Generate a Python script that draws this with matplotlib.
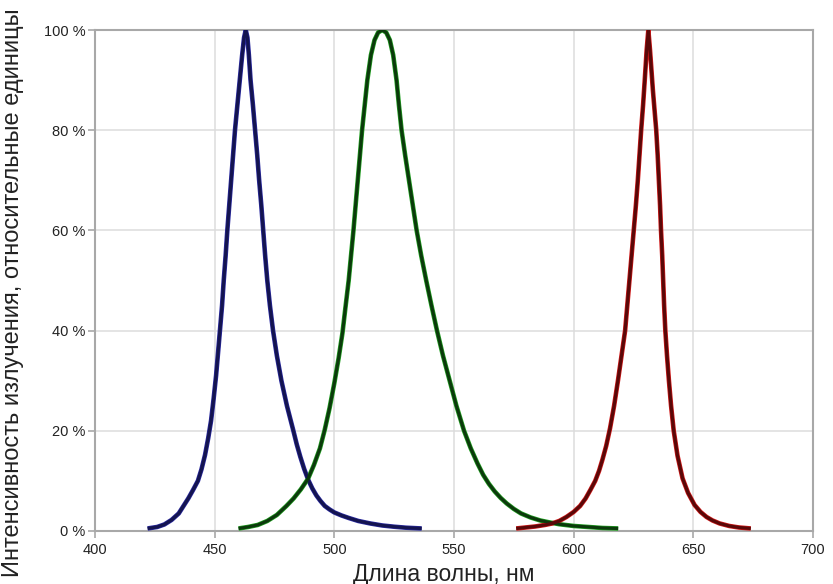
import matplotlib.pyplot as plt
from matplotlib.ticker import FuncFormatter

plt.rcParams['font.family'] = ['Liberation Sans', 'DejaVu Sans']

# Emission spectra of an RGB LED, relative intensity in %
blue_nm = [422, 426, 429, 432, 435, 437, 439, 441, 443, 444.5, 446, 447.3, 448.5,
           449.6, 450.6, 451.5, 452.3, 453.1, 453.8, 454.6, 455.3, 456.1, 456.9,
           457.7, 458.5, 459.5, 460.5, 461.5, 462.3, 463, 463.7, 464.3, 465, 466,
           466.9, 467.8, 468.6, 469.5, 470.3, 471.1, 472, 473.1, 474.4, 476,
           477.9, 480.2, 482.9, 484.3, 485.8, 487.4, 489.1, 490.8, 492.5, 494.2,
           496, 498, 500, 503, 506, 510, 515, 520, 525, 530, 536.5]
blue_pct = [0.5, 0.8, 1.3, 2.2, 3.5, 5, 6.5, 8.2, 10, 12.3, 15.2, 18.5, 22,
            26.5, 31, 36, 40.5, 45, 50, 55, 60, 65, 70,
            75, 80, 85, 90, 95, 98.5, 100, 98.5, 95, 90, 85,
            80, 75, 70, 65, 60, 55, 50, 45, 40, 35,
            30, 25, 20, 17.3, 14.8, 12.4, 10.2, 8.5, 7.1, 6,
            5, 4.3, 3.7, 3.1, 2.6, 2, 1.5, 1.1, 0.85, 0.65, 0.5]

green_nm = [460, 464, 468, 472, 476, 480, 483, 486, 489, 491.5, 494, 496, 498,
            500, 501.8, 503.4, 504.7, 506, 507, 508, 508.9, 509.8, 510.7, 511.6,
            512.7, 513.8, 515.3, 516.8, 518.3, 520, 521.7, 523.2, 524.6, 526, 527,
            528.1, 529.6, 531.2, 532.8, 534.4, 536.3, 538.4, 540.6, 542.9, 545.4,
            548.2, 551, 554.2, 557, 559.8, 562.2, 564.6, 567, 569.5, 572,
            575, 578, 582, 586, 590, 594, 600, 606, 612, 618.6]
green_pct = [0.5, 0.8, 1.2, 2, 3.2, 5, 6.5, 8.3, 10.4, 13.2, 16.5, 20.2, 24.5,
             29.5, 34.5, 39.5, 44.8, 50, 55, 60, 65, 70, 75, 80,
             85, 90, 95, 98, 99.5, 100, 99.5, 98, 95, 90, 85,
             80, 75, 70, 65, 60, 55, 50, 45, 40, 35,
             30, 25, 20, 16.5, 13.5, 11.2, 9.4, 7.9, 6.6, 5.5,
             4.4, 3.5, 2.7, 2.1, 1.7, 1.35, 1, 0.8, 0.6, 0.5]

red_nm = [576, 580, 584, 588, 591, 594, 597, 600, 602.7, 605, 607, 609, 610.6,
          612, 613.6, 615.2, 616.9, 618.5, 620, 621.5, 622.4, 623.3, 624.2,
          625.1, 626, 626.8, 627.5, 628.2, 629, 629.7, 630.5, 631.2, 631.9,
          632.5, 633.1, 633.8, 634.5, 635.1, 635.6, 636.1, 636.5, 637, 637.4,
          637.8, 638.3, 639, 639.8, 640.7, 641.8, 643.4, 645.5, 647.8, 650.5,
          653, 655.5, 658, 661, 665, 669, 674]
red_pct = [0.5, 0.7, 0.9, 1.2, 1.5, 2, 2.8, 3.8, 5, 6.5, 8.2, 10, 12,
           14.2, 17, 20.5, 25, 30, 35, 40, 45, 50, 55,
           60, 65, 70, 75, 80, 85, 90, 96, 100, 96,
           92, 88, 84, 80, 75, 70, 65, 60, 55, 50,
           45, 40, 35, 30, 25, 20, 15, 10.5, 7.6, 5.2,
           3.8, 2.8, 2.1, 1.5, 1, 0.7, 0.5]

x_ticks = [400, 450, 500, 550, 600, 650, 700]
y_ticks = [0, 20, 40, 60, 80, 100]

fig = plt.figure(figsize=(8.33, 5.84), dpi=100)
ax = fig.add_axes([0.114, 0.0908, 0.862, 0.8578])

# each curve: bright halo underneath, dark core on top
curves = [(blue_nm, blue_pct, '#2a2aa0', '#141450'),
          (green_nm, green_pct, '#23a023', '#0b3a0b'),
          (red_nm, red_pct, '#d01818', '#5a0808')]
for xs, ys, halo, core in curves:
    ax.plot(xs, ys, color=halo, lw=3.3, solid_capstyle='butt',
            solid_joinstyle='round', zorder=3)
    ax.plot(xs, ys, color=core, lw=2.3, solid_capstyle='butt',
            solid_joinstyle='round', zorder=4)

ax.set_xlim(400, 700)
ax.set_ylim(0, 100)
ax.set_xticks(x_ticks)
ax.set_yticks(y_ticks)
ax.yaxis.set_major_formatter(FuncFormatter(lambda v, p: f'{v:.0f} %'))
ax.grid(True, color='#dcdcdc', lw=1.1)
ax.set_axisbelow(True)
for s in ax.spines.values():
    s.set_color('#a8a8a8')
    s.set_linewidth(1.5)
ax.tick_params(axis='both', colors='#a8a8a8', labelcolor='#222222',
               labelsize=10.5, length=5, width=1.2)
ax.tick_params(axis='y', pad=2)
ax.tick_params(axis='x', pad=4)

fig.text(0.016, 0.498, 'Интенсивность излучения, относительные единицы',
         rotation=90, ha='center', va='center', fontsize=17, color='#222222')
fig.text(0.533, 0.017, 'Длина волны, нм', ha='center', va='center',
         fontsize=16.5, color='#222222')

fig.savefig('out.png', dpi=100)
